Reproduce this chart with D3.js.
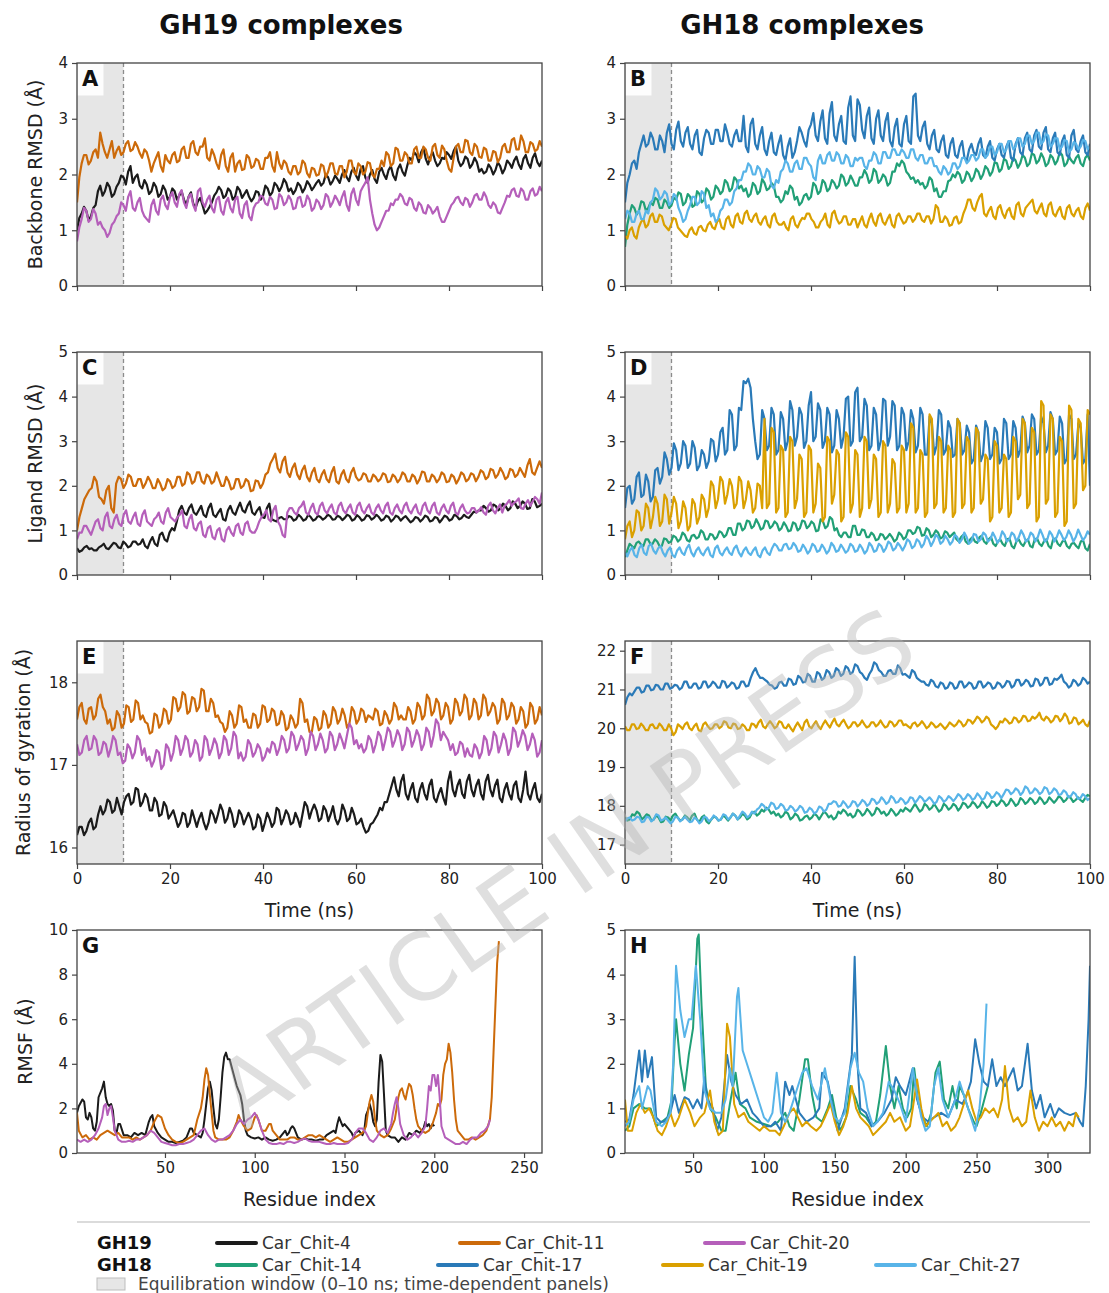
<!DOCTYPE html>
<html>
<head>
<meta charset="utf-8">
<script src="https://cdn.jsdelivr.net/npm/d3@7"></script>
<style>
  body { margin: 0; background: #fff; }
  svg { display: block; font-family: "DejaVu Sans", sans-serif; }
</style>
</head>
<body>
<div id="chart"></div>
<script>
// ---- data ----
// time series: about two samples per ns, spread evenly over 0..100 ns

// A: backbone RMSD, GH19
const A_chit4 = [1.00,1.22,1.30,1.42,1.35,1.18,1.25,1.40,1.45,1.70,1.80,1.62,1.70,1.85,1.78,1.60,1.65,1.78,1.85,1.98,1.95,1.82,2.05,2.15,1.85,1.95,2.00,1.80,1.75,1.90,1.82,1.65,1.70,1.85,1.78,1.60,1.65,1.80,1.72,1.55,1.60,1.75,1.70,1.55,1.62,1.70,1.55,1.45,1.60,1.68,1.48,1.40,1.52,1.58,1.45,1.30,1.35,1.42,1.50,1.62,1.68,1.78,1.72,1.58,1.62,1.75,1.70,1.55,1.60,1.78,1.72,1.58,1.65,1.72,1.60,1.52,1.58,1.70,1.68,1.55,1.62,1.80,1.75,1.62,1.68,1.85,1.80,1.70,1.78,1.92,1.85,1.70,1.75,1.65,1.72,1.85,1.80,1.68,1.75,1.88,1.82,1.72,1.78,1.85,1.90,1.80,1.85,2.00,1.95,1.82,1.88,1.98,1.92,1.85,2.00,2.08,1.95,1.88,2.05,2.12,1.98,1.90,2.10,2.15,1.95,1.85,2.00,2.08,1.92,1.85,2.05,2.12,2.00,1.92,2.08,2.15,1.98,1.90,2.10,2.18,2.05,1.98,2.15,2.30,2.25,2.40,2.35,2.22,2.40,2.48,2.28,2.18,2.32,2.40,2.25,2.15,2.20,2.30,2.28,2.40,2.35,2.28,2.42,2.50,2.25,2.15,2.20,2.32,2.28,2.12,2.18,2.30,2.22,2.05,2.10,2.02,2.05,2.18,2.12,2.00,2.08,2.22,2.15,2.02,2.10,2.25,2.20,2.12,2.25,2.32,2.18,2.10,2.28,2.35,2.20,2.12,2.30,2.38,2.22,2.15,2.25];
const A_chit11 = [1.50,1.95,2.20,2.35,2.35,2.18,2.25,2.40,2.45,2.30,2.75,2.55,2.40,2.30,2.45,2.60,2.30,2.42,2.50,2.35,2.40,2.55,2.60,2.42,2.45,2.58,2.50,2.38,2.30,2.45,2.40,2.25,2.05,2.20,2.30,2.40,2.15,2.05,2.35,2.25,2.20,2.35,2.40,2.22,2.25,2.45,2.50,2.30,2.30,2.55,2.60,2.40,2.35,2.50,2.50,2.65,2.30,2.25,2.45,2.35,2.20,2.10,2.35,2.45,2.15,2.05,2.30,2.38,2.05,2.20,2.25,2.08,2.10,2.35,2.30,2.12,2.15,2.28,2.25,2.10,2.10,2.30,2.30,2.40,2.15,2.05,2.40,2.20,2.10,2.25,2.20,2.05,2.00,2.15,2.15,2.00,2.05,2.25,2.20,2.02,1.95,2.12,2.10,1.98,2.00,2.18,2.15,1.95,2.05,2.20,2.20,2.02,2.00,2.15,2.15,1.95,2.05,2.25,2.25,2.05,2.00,2.20,2.15,2.00,2.05,2.22,2.20,2.00,1.95,2.10,2.10,2.25,2.15,2.40,2.35,2.15,2.20,2.48,2.45,2.25,2.25,2.40,2.35,2.20,2.20,2.45,2.50,2.30,2.30,2.50,2.45,2.30,2.25,2.50,2.55,2.35,2.30,2.52,2.45,2.25,2.10,2.05,2.30,2.50,2.55,2.40,2.40,2.62,2.60,2.40,2.35,2.55,2.50,2.32,2.30,2.48,2.45,2.25,2.25,2.42,2.40,2.22,2.30,2.50,2.55,2.40,2.40,2.62,2.65,2.45,2.45,2.70,2.60,2.40,2.40,2.58,2.55,2.42,2.45,2.60,2.50];
const A_chit20 = [0.80,1.05,1.20,1.40,1.35,1.15,1.20,1.38,1.30,1.10,1.15,1.05,1.00,0.88,0.95,1.10,1.15,1.25,1.30,1.50,1.45,1.35,1.60,1.70,1.40,1.35,1.50,1.58,1.35,1.25,1.20,1.15,1.45,1.55,1.35,1.28,1.55,1.62,1.45,1.38,1.60,1.68,1.50,1.42,1.65,1.72,1.50,1.40,1.60,1.65,1.45,1.35,1.70,1.75,1.50,1.42,1.55,1.62,1.40,1.32,1.55,1.60,1.35,1.28,1.50,1.58,1.40,1.32,1.55,1.60,1.30,1.22,1.45,1.52,1.25,1.18,1.40,1.48,1.50,1.62,1.60,1.48,1.45,1.60,1.55,1.38,1.40,1.65,1.60,1.45,1.50,1.62,1.55,1.38,1.40,1.58,1.60,1.42,1.45,1.62,1.55,1.35,1.40,1.55,1.50,1.38,1.45,1.65,1.60,1.42,1.50,1.62,1.55,1.45,1.60,1.70,1.45,1.35,1.65,1.75,1.55,1.45,1.70,1.78,1.85,1.95,1.55,1.30,1.10,1.00,1.05,1.15,1.25,1.35,1.35,1.48,1.45,1.55,1.55,1.65,1.60,1.48,1.45,1.58,1.55,1.40,1.35,1.50,1.45,1.32,1.30,1.45,1.40,1.30,1.35,1.42,1.25,1.15,1.15,1.25,1.35,1.45,1.50,1.58,1.60,1.50,1.45,1.58,1.55,1.42,1.50,1.62,1.65,1.55,1.55,1.68,1.60,1.45,1.40,1.50,1.45,1.32,1.30,1.40,1.50,1.62,1.60,1.72,1.75,1.62,1.60,1.75,1.70,1.55,1.55,1.70,1.75,1.62,1.65,1.78,1.70];

// B: backbone RMSD, GH18
const B_chit14 = [0.70,1.10,1.30,1.45,1.40,1.28,1.35,1.52,1.50,1.35,1.40,1.50,1.45,1.58,1.55,1.40,1.40,1.55,1.50,1.40,1.45,1.58,1.55,1.68,1.65,1.45,1.50,1.65,1.60,1.42,1.45,1.70,1.65,1.50,1.55,1.75,1.70,1.55,1.60,1.80,1.75,1.65,1.70,1.90,1.85,1.70,1.75,1.95,1.90,1.75,1.80,1.70,1.75,1.60,1.65,1.85,1.80,1.65,1.70,1.92,1.85,1.72,1.75,1.85,1.80,1.60,1.60,1.50,1.55,1.70,1.65,1.80,1.75,1.55,1.60,1.45,1.50,1.62,1.65,1.55,1.60,1.85,1.80,1.65,1.70,1.90,1.85,1.70,1.75,1.90,1.85,1.75,1.80,2.00,1.95,1.80,1.85,1.98,1.90,1.80,1.80,1.95,1.95,2.08,2.00,1.85,1.90,2.10,2.05,1.85,1.90,2.00,1.95,1.80,1.85,2.05,2.05,2.20,2.15,2.25,2.20,2.05,2.00,1.92,1.95,1.85,1.90,1.82,1.85,1.75,1.80,1.95,1.90,1.70,1.75,1.60,1.60,1.70,1.70,1.88,1.90,2.00,1.95,2.05,2.00,1.85,1.90,2.05,2.00,1.88,1.95,2.10,2.05,1.92,2.00,2.15,2.10,1.98,2.05,2.22,2.20,2.05,2.10,2.28,2.25,2.10,2.15,2.30,2.25,2.12,2.20,2.35,2.30,2.15,2.20,2.38,2.35,2.20,2.25,2.38,2.30,2.15,2.20,2.35,2.30,2.18,2.25,2.40,2.35,2.15,2.20,2.32,2.25,2.20,2.30,2.35,2.20,2.15,2.30,2.35,2.25];
const B_chit17 = [1.50,1.85,2.00,2.20,2.25,2.10,2.40,2.55,2.70,2.50,2.55,2.75,2.65,2.45,2.45,2.70,2.60,2.40,2.75,2.90,2.55,2.45,2.80,2.95,2.60,2.50,2.75,2.85,2.55,2.45,2.70,2.80,2.40,2.35,2.65,2.80,2.75,2.55,2.55,2.80,2.80,2.60,2.60,2.90,2.75,2.55,2.50,2.70,2.80,2.60,2.60,3.05,2.50,2.40,2.90,3.00,2.55,2.45,2.70,2.85,2.45,2.35,2.60,2.75,2.40,2.35,2.55,2.70,2.35,2.25,2.50,2.65,2.30,2.40,2.60,2.85,2.75,2.60,2.50,2.80,2.90,3.10,2.70,2.60,2.95,3.15,2.65,2.55,3.10,3.30,2.70,2.60,2.90,3.05,2.60,2.55,3.20,3.40,2.70,2.60,3.35,3.25,2.80,2.65,3.05,3.20,2.65,2.55,3.00,3.15,2.70,2.60,2.95,3.10,2.60,2.50,2.85,3.00,2.55,2.50,2.90,3.05,2.60,2.55,3.40,3.45,2.70,2.60,2.85,2.95,2.55,2.45,2.70,2.80,2.45,2.40,2.60,2.70,2.35,2.30,2.55,2.65,2.35,2.30,2.50,2.60,2.30,2.25,2.45,2.55,2.40,2.35,2.55,2.65,2.35,2.30,2.50,2.60,2.30,2.25,2.45,2.55,2.35,2.30,2.50,2.60,2.30,2.25,2.55,2.65,2.40,2.35,2.65,2.75,2.45,2.40,2.70,2.80,2.50,2.45,2.75,2.85,2.45,2.40,2.65,2.75,2.40,2.35,2.60,2.70,2.35,2.30,2.70,2.80,2.45,2.40,2.60,2.70,2.40,2.35,2.55];
const B_chit19 = [0.90,0.85,1.00,1.05,0.90,0.85,1.05,1.15,1.20,1.05,1.10,1.25,1.30,1.15,1.15,1.28,1.25,1.10,1.05,1.00,1.10,1.22,1.20,1.05,1.00,0.95,0.90,0.88,1.00,1.05,0.95,0.92,1.05,1.08,1.00,0.98,1.10,1.15,1.05,1.02,1.15,1.20,1.05,1.02,1.20,1.25,1.10,1.05,1.25,1.30,1.15,1.12,1.30,1.35,1.20,1.15,1.25,1.30,1.15,1.10,1.20,1.25,1.10,1.05,1.25,1.30,1.15,1.10,1.10,1.15,1.05,1.00,1.20,1.25,1.10,1.05,1.15,1.22,1.20,1.30,1.30,1.20,1.15,1.05,1.05,1.15,1.20,1.30,1.10,1.05,1.30,1.35,1.20,1.12,1.15,1.25,1.25,1.10,1.10,1.20,1.20,1.05,1.15,1.25,1.10,1.05,1.20,1.30,1.15,1.08,1.25,1.30,1.15,1.10,1.20,1.28,1.10,1.05,1.25,1.30,1.20,1.12,1.15,1.25,1.25,1.15,1.20,1.30,1.30,1.18,1.15,1.25,1.25,1.12,1.20,1.45,1.40,1.15,1.15,1.25,1.20,1.08,1.10,1.22,1.25,1.12,1.15,1.30,1.40,1.55,1.55,1.40,1.35,1.50,1.60,1.65,1.30,1.25,1.35,1.42,1.25,1.20,1.40,1.45,1.30,1.22,1.35,1.40,1.25,1.20,1.45,1.50,1.30,1.25,1.40,1.45,1.50,1.55,1.35,1.30,1.40,1.48,1.30,1.25,1.45,1.50,1.30,1.25,1.35,1.42,1.25,1.20,1.40,1.45,1.30,1.25,1.35,1.40,1.25,1.20,1.40,1.48,1.35];
const B_chit27 = [1.20,1.35,1.30,1.15,1.15,1.30,1.35,1.20,1.20,1.35,1.30,1.50,1.55,1.75,1.70,1.55,1.60,1.70,1.65,1.45,1.50,1.65,1.60,1.40,1.30,1.15,1.20,1.35,1.45,1.60,1.60,1.45,1.50,1.70,1.65,1.40,1.45,1.25,1.30,1.15,1.20,1.35,1.40,1.55,1.55,1.45,1.50,1.70,1.75,1.90,1.90,2.05,2.05,2.20,2.15,2.00,2.00,2.15,2.10,1.95,1.95,2.10,2.05,1.80,1.75,1.90,1.85,2.05,2.10,2.25,2.20,2.05,2.05,2.20,2.25,2.10,2.10,2.30,2.30,2.20,2.15,1.95,1.90,2.25,2.35,2.20,2.20,2.35,2.40,2.25,2.25,2.40,2.35,2.20,2.20,2.35,2.30,2.15,2.15,2.30,2.25,2.30,2.30,2.15,2.10,2.25,2.25,2.40,2.35,2.20,2.20,2.40,2.40,2.30,2.30,2.45,2.45,2.35,2.35,2.45,2.40,2.30,2.30,2.45,2.45,2.30,2.25,2.35,2.35,2.20,2.20,2.30,2.30,2.15,2.15,2.05,2.00,2.15,2.10,2.00,2.05,2.20,2.20,2.10,2.15,2.30,2.30,2.20,2.25,2.35,2.35,2.25,2.30,2.45,2.45,2.30,2.35,2.50,2.50,2.35,2.40,2.55,2.55,2.40,2.45,2.60,2.60,2.45,2.50,2.65,2.65,2.50,2.55,2.70,2.70,2.55,2.60,2.75,2.75,2.55,2.60,2.72,2.70,2.50,2.55,2.65,2.65,2.45,2.50,2.62,2.60,2.40,2.45,2.58,2.55,2.45,2.50,2.62,2.60,2.45,2.50];

// C: ligand RMSD, GH19
const C_chit4 = [0.60,0.52,0.55,0.62,0.65,0.58,0.60,0.55,0.55,0.62,0.65,0.70,0.60,0.58,0.65,0.72,0.70,0.62,0.60,0.75,0.70,0.62,0.65,0.75,0.75,0.68,0.70,0.80,0.65,0.60,0.75,0.85,0.70,0.65,0.90,0.95,0.80,0.75,0.95,1.05,1.00,1.20,1.45,1.55,1.40,1.35,1.50,1.58,1.40,1.35,1.45,1.55,1.35,1.30,1.50,1.60,1.35,1.30,1.40,1.48,1.25,1.22,1.45,1.55,1.40,1.35,1.50,1.62,1.45,1.40,1.55,1.65,1.40,1.35,1.45,1.52,1.30,1.28,1.50,1.60,1.25,1.22,1.20,1.28,1.30,1.25,1.25,1.32,1.30,1.22,1.25,1.35,1.30,1.22,1.25,1.35,1.30,1.22,1.25,1.33,1.30,1.24,1.28,1.35,1.32,1.24,1.25,1.33,1.30,1.23,1.28,1.35,1.32,1.22,1.25,1.34,1.30,1.22,1.25,1.34,1.32,1.24,1.28,1.35,1.30,1.22,1.25,1.33,1.30,1.20,1.25,1.33,1.30,1.22,1.28,1.32,1.25,1.18,1.22,1.30,1.28,1.20,1.25,1.33,1.30,1.20,1.22,1.30,1.28,1.18,1.25,1.33,1.30,1.22,1.25,1.35,1.32,1.25,1.28,1.35,1.30,1.28,1.35,1.42,1.40,1.45,1.45,1.55,1.50,1.42,1.45,1.58,1.55,1.45,1.50,1.60,1.55,1.45,1.50,1.65,1.60,1.50,1.55,1.65,1.60,1.48,1.50,1.70,1.65,1.52,1.55,1.60];
const C_chit11 = [1.00,1.30,1.50,1.70,1.80,1.90,1.95,2.20,2.10,1.75,1.70,1.60,1.90,2.00,1.50,1.40,2.05,2.20,2.15,1.95,2.05,2.25,2.20,2.00,2.00,2.15,2.15,1.95,2.05,2.20,2.10,1.95,1.95,2.15,2.05,1.90,1.95,2.15,2.10,1.95,2.00,2.20,2.20,2.00,2.05,2.30,2.25,2.05,2.10,2.30,2.30,2.10,2.05,2.25,2.20,2.05,2.10,2.30,2.15,2.00,2.00,2.20,2.10,1.92,1.95,2.15,2.15,1.95,2.00,2.15,2.10,1.88,1.90,2.12,2.10,1.95,2.05,2.25,2.30,2.50,2.60,2.72,2.40,2.30,2.55,2.65,2.30,2.20,2.40,2.50,2.25,2.15,2.35,2.45,2.20,2.10,2.30,2.40,2.15,2.08,2.25,2.35,2.15,2.08,2.30,2.42,2.10,2.05,2.25,2.35,2.15,2.08,2.30,2.40,2.20,2.12,2.15,2.28,2.25,2.10,2.10,2.25,2.20,2.10,2.15,2.28,2.25,2.08,2.10,2.25,2.20,2.08,2.15,2.30,2.25,2.10,2.10,2.25,2.20,2.05,2.15,2.32,2.30,2.10,2.10,2.25,2.20,2.08,2.15,2.30,2.25,2.08,2.10,2.25,2.20,2.05,2.15,2.30,2.25,2.10,2.15,2.28,2.25,2.10,2.20,2.35,2.30,2.15,2.20,2.38,2.35,2.18,2.25,2.40,2.30,2.15,2.20,2.38,2.35,2.20,2.25,2.40,2.30,2.20,2.45,2.60,2.30,2.25,2.40,2.55,2.40];
const C_chit20 = [0.80,0.95,0.95,1.10,1.10,1.00,0.90,1.05,1.20,1.25,1.05,1.00,1.30,1.40,1.10,1.05,1.25,1.35,1.15,1.10,1.35,1.45,1.20,1.15,1.30,1.40,1.15,1.10,1.35,1.45,1.20,1.15,1.10,1.25,1.30,1.40,1.20,1.15,1.40,1.50,1.30,1.25,1.20,1.30,1.35,1.45,1.10,1.05,1.25,1.35,1.05,1.00,1.15,1.20,0.90,0.85,1.05,1.10,0.85,0.80,1.00,1.05,0.80,0.75,1.00,1.08,0.95,0.88,1.10,1.15,0.95,0.90,1.15,1.20,1.00,0.95,0.95,1.05,1.20,1.30,1.35,1.45,1.25,1.20,1.45,1.55,1.20,1.10,0.90,0.85,1.40,1.50,1.50,1.40,1.35,1.50,1.55,1.65,1.40,1.35,1.50,1.60,1.40,1.35,1.55,1.62,1.45,1.38,1.50,1.58,1.40,1.35,1.55,1.62,1.45,1.38,1.50,1.58,1.40,1.35,1.55,1.62,1.45,1.38,1.50,1.58,1.40,1.35,1.50,1.58,1.45,1.38,1.55,1.62,1.40,1.35,1.50,1.58,1.45,1.38,1.55,1.62,1.45,1.38,1.50,1.58,1.40,1.35,1.55,1.62,1.45,1.38,1.55,1.62,1.40,1.35,1.50,1.58,1.45,1.38,1.55,1.62,1.40,1.35,1.50,1.58,1.45,1.38,1.40,1.50,1.50,1.40,1.45,1.52,1.40,1.35,1.55,1.62,1.45,1.38,1.50,1.58,1.40,1.55,1.60,1.68,1.55,1.62,1.65,1.72,1.50,1.48,1.60,1.68,1.55,1.65,1.75,1.70,1.60,1.85];

// D: ligand RMSD, GH18
const D_chit14 = [0.40,0.55,0.70,0.65,0.60,0.72,0.75,0.68,0.65,0.80,0.80,0.70,0.70,0.80,0.75,0.65,0.65,0.82,0.80,0.72,0.75,0.88,0.85,0.75,0.80,0.95,0.90,0.78,0.75,0.88,0.90,0.82,0.85,1.00,0.95,0.80,0.80,0.92,0.90,0.80,0.85,0.98,0.95,0.85,0.90,1.05,1.05,0.90,0.90,1.15,1.15,1.00,1.05,1.22,1.20,1.05,1.10,1.25,1.15,1.02,1.05,1.22,1.20,1.05,1.10,1.20,1.15,1.00,1.05,1.18,1.10,0.98,1.00,1.18,1.15,1.00,1.05,1.22,1.20,1.05,1.10,1.20,1.15,0.98,1.00,1.25,1.20,1.05,1.10,1.30,1.25,1.00,1.05,0.90,0.85,0.95,0.95,0.85,0.85,1.10,1.10,0.90,0.90,1.02,1.00,0.85,0.85,0.95,0.90,0.78,0.80,0.92,0.90,0.80,0.85,0.92,0.85,0.75,0.80,0.95,0.90,0.80,0.85,1.00,1.00,0.92,0.95,1.08,1.05,0.88,0.90,1.05,1.00,0.85,0.90,1.00,0.95,0.82,0.85,0.98,0.95,0.85,0.90,0.95,0.80,0.75,0.85,0.90,0.75,0.70,0.80,0.85,0.75,0.72,0.85,0.88,0.75,0.70,0.80,0.85,0.70,0.65,0.75,0.80,0.70,0.65,0.80,0.82,0.65,0.60,0.75,0.80,0.70,0.65,0.75,0.80,0.65,0.62,0.80,0.82,0.70,0.65,0.75,0.80,0.65,0.60,0.80,0.82,0.70,0.65,0.75,0.78,0.65,0.60,0.70,0.72,0.65,0.60,0.75,0.78,0.60,0.55,0.70];
const D_chit17 = [1.50,1.95,2.00,1.60,1.70,2.20,2.30,1.75,1.80,2.25,2.10,1.65,1.75,2.35,2.40,2.05,2.20,2.75,2.60,2.25,2.40,2.95,2.80,2.35,2.50,3.00,2.90,2.40,2.50,3.00,2.85,2.35,2.45,2.80,2.70,2.40,2.55,3.05,3.00,2.55,2.70,3.20,3.30,2.70,2.80,3.70,3.60,2.80,2.90,3.75,3.70,4.35,4.30,4.40,4.20,3.50,3.00,2.60,2.70,3.70,3.50,2.80,2.90,3.75,3.60,2.70,2.80,3.65,3.50,2.80,3.00,3.90,3.70,2.90,3.10,3.75,3.60,2.85,3.00,3.80,4.10,3.00,3.10,3.85,3.70,2.85,3.00,3.75,3.60,2.75,2.90,3.70,3.50,2.85,3.10,3.95,4.00,2.90,3.00,4.10,4.20,3.00,3.10,3.95,3.80,2.80,2.90,3.75,3.60,2.80,3.00,3.95,3.90,2.90,3.10,3.90,3.80,2.80,2.90,3.75,3.60,2.80,3.00,3.70,3.50,2.75,2.90,3.75,3.60,2.70,2.70,3.55,3.40,2.70,2.90,3.70,3.60,2.70,2.80,3.45,3.30,2.65,2.70,3.50,3.40,2.70,2.80,3.35,3.20,2.50,2.60,3.35,3.20,2.55,2.70,3.45,3.30,2.60,2.70,3.30,3.20,2.50,2.60,3.50,3.40,2.60,2.70,3.45,3.30,2.65,2.80,3.55,3.40,2.75,2.90,3.60,3.50,2.70,2.80,3.55,3.40,2.75,2.90,3.65,3.50,2.70,2.80,3.55,3.40,2.50,2.60,3.60,3.50,2.60,2.70,3.40,3.30,2.50,2.60,3.60,2.00];
const D_chit19 = [0.80,1.10,1.20,0.85,1.00,1.45,1.40,1.00,1.10,1.60,1.50,1.05,1.30,1.75,1.60,1.10,1.20,1.80,1.70,1.15,1.40,1.75,1.60,1.05,1.20,1.65,1.50,1.00,1.10,1.70,1.60,1.15,1.30,1.80,1.70,1.30,1.50,2.10,2.00,1.50,1.70,2.20,2.10,1.60,1.80,2.15,2.00,1.50,1.60,2.20,2.10,1.50,1.70,2.10,1.90,1.40,1.50,2.05,2.00,1.50,3.50,1.50,1.60,3.30,3.20,1.40,1.50,2.90,2.80,1.30,1.40,3.10,3.00,1.50,1.70,2.70,2.60,1.30,1.40,2.90,2.80,1.40,1.60,2.50,2.40,1.20,1.30,3.10,3.00,1.60,1.80,2.80,2.70,1.20,1.30,3.20,3.10,1.40,1.60,2.80,2.70,1.30,1.50,3.10,3.00,1.50,1.70,2.70,2.60,1.30,1.40,3.00,2.90,1.40,1.60,2.60,2.50,1.40,1.50,2.90,2.80,1.40,1.60,3.40,3.30,1.40,1.50,2.80,2.70,1.30,1.40,3.60,3.50,1.50,1.60,3.10,3.00,1.40,1.50,2.90,2.80,1.30,1.40,3.50,3.40,1.50,1.60,3.10,3.00,1.40,1.50,3.30,3.20,1.60,1.70,2.70,2.60,1.20,1.30,3.00,2.90,1.40,1.50,2.70,2.60,1.30,1.40,3.10,3.00,1.70,1.80,3.50,3.40,1.50,1.60,3.30,3.20,1.20,1.30,3.90,3.80,1.60,1.70,3.60,3.50,1.30,1.40,3.10,3.00,1.10,1.20,3.80,3.70,1.50,1.60,3.50,3.40,1.90,2.00,3.70,3.60];
const D_chit27 = [0.50,0.42,0.55,0.62,0.45,0.40,0.60,0.68,0.50,0.45,0.65,0.70,0.55,0.48,0.60,0.65,0.50,0.42,0.55,0.62,0.45,0.40,0.55,0.62,0.50,0.45,0.60,0.68,0.50,0.42,0.55,0.62,0.50,0.44,0.55,0.62,0.45,0.40,0.60,0.66,0.50,0.44,0.55,0.62,0.50,0.45,0.60,0.66,0.50,0.42,0.55,0.62,0.50,0.45,0.55,0.62,0.45,0.40,0.55,0.62,0.50,0.45,0.60,0.70,0.65,0.55,0.55,0.68,0.70,0.58,0.60,0.72,0.65,0.52,0.55,0.68,0.60,0.48,0.55,0.70,0.65,0.52,0.55,0.68,0.60,0.48,0.55,0.72,0.65,0.52,0.55,0.68,0.60,0.50,0.55,0.70,0.65,0.52,0.55,0.68,0.60,0.48,0.55,0.72,0.65,0.52,0.55,0.70,0.65,0.52,0.60,0.75,0.70,0.55,0.60,0.72,0.65,0.55,0.65,0.80,0.75,0.60,0.65,0.80,0.75,0.62,0.70,0.88,0.80,0.65,0.75,0.90,0.85,0.70,0.75,0.88,0.80,0.68,0.75,0.90,0.85,0.72,0.80,0.95,0.85,0.70,0.75,0.92,0.90,0.75,0.80,0.95,0.90,0.75,0.80,0.95,0.85,0.72,0.80,0.98,0.90,0.75,0.80,0.95,0.90,0.75,0.85,1.00,0.90,0.75,0.80,0.95,0.90,0.75,0.85,1.02,0.90,0.75,0.80,0.98,0.90,0.75,0.85,1.00,0.90,0.78,0.85,1.00,0.90,0.75,0.85,1.02,0.90,0.78,0.85,0.98,0.90];

// E: radius of gyration, GH19
const E_chit4 = [16.15,16.25,16.25,16.15,16.20,16.30,16.35,16.22,16.25,16.40,16.50,16.40,16.45,16.58,16.55,16.42,16.45,16.60,16.50,16.40,16.55,16.62,16.65,16.52,16.55,16.72,16.70,16.50,16.55,16.65,16.60,16.45,16.45,16.60,16.55,16.38,16.40,16.55,16.50,16.35,16.40,16.45,16.35,16.25,16.30,16.42,16.40,16.25,16.30,16.45,16.35,16.25,16.35,16.42,16.30,16.22,16.30,16.45,16.40,16.30,16.40,16.52,16.45,16.30,16.35,16.48,16.40,16.25,16.30,16.45,16.40,16.28,16.35,16.42,16.35,16.22,16.25,16.40,16.35,16.20,16.30,16.42,16.35,16.25,16.30,16.48,16.45,16.28,16.35,16.45,16.40,16.28,16.30,16.42,16.35,16.25,16.40,16.55,16.50,16.35,16.45,16.52,16.45,16.32,16.35,16.50,16.45,16.32,16.40,16.50,16.35,16.28,16.35,16.52,16.45,16.32,16.35,16.48,16.40,16.28,16.30,16.35,16.25,16.18,16.20,16.28,16.30,16.35,16.40,16.48,16.45,16.55,16.55,16.65,16.75,16.85,16.70,16.62,16.80,16.88,16.65,16.58,16.70,16.78,16.60,16.55,16.70,16.78,16.65,16.58,16.75,16.82,16.60,16.55,16.65,16.72,16.60,16.52,16.80,16.92,16.70,16.62,16.75,16.82,16.65,16.60,16.80,16.88,16.70,16.62,16.75,16.82,16.65,16.58,16.80,16.88,16.70,16.62,16.75,16.82,16.60,16.55,16.70,16.78,16.65,16.58,16.75,16.80,16.60,16.55,16.70,16.92,16.65,16.58,16.70,16.78,16.60,16.55,16.65];
const E_chit11 = [17.55,17.70,17.75,17.55,17.50,17.68,17.70,17.55,17.60,17.80,17.85,17.70,17.65,17.50,17.55,17.42,17.45,17.65,17.60,17.45,17.50,17.72,17.70,17.52,17.55,17.78,17.75,17.55,17.60,17.52,17.50,17.38,17.40,17.62,17.60,17.45,17.50,17.68,17.65,17.50,17.55,17.82,17.80,17.65,17.70,17.88,17.85,17.62,17.65,17.82,17.80,17.65,17.70,17.92,17.90,17.65,17.65,17.80,17.75,17.58,17.60,17.52,17.50,17.40,17.45,17.65,17.60,17.45,17.50,17.72,17.70,17.52,17.55,17.45,17.45,17.62,17.60,17.45,17.50,17.72,17.70,17.52,17.55,17.68,17.65,17.48,17.50,17.65,17.60,17.42,17.45,17.60,17.55,17.45,17.50,17.80,17.75,17.52,17.55,17.40,17.40,17.58,17.55,17.42,17.45,17.65,17.60,17.45,17.50,17.70,17.65,17.50,17.55,17.68,17.60,17.45,17.50,17.70,17.65,17.50,17.55,17.68,17.65,17.52,17.60,17.58,17.55,17.68,17.65,17.48,17.50,17.65,17.60,17.50,17.55,17.75,17.70,17.55,17.60,17.55,17.55,17.70,17.65,17.50,17.55,17.75,17.70,17.55,17.60,17.85,17.80,17.60,17.65,17.80,17.75,17.55,17.60,17.75,17.70,17.50,17.55,17.80,17.75,17.60,17.65,17.85,17.80,17.55,17.60,17.80,17.75,17.55,17.60,17.85,17.80,17.60,17.65,17.75,17.70,17.50,17.55,17.80,17.75,17.55,17.60,17.75,17.70,17.50,17.55,17.70,17.65,17.45,17.50,17.75,17.70,17.50,17.55,17.70,17.60];
const E_chit20 = [17.25,17.12,17.15,17.30,17.35,17.18,17.20,17.35,17.30,17.12,17.15,17.28,17.25,17.10,17.20,17.35,17.30,17.12,17.15,17.02,17.05,17.25,17.20,17.08,17.15,17.35,17.30,17.12,17.20,17.05,17.10,16.98,17.05,17.18,17.15,16.95,17.00,17.25,17.20,17.05,17.15,17.35,17.30,17.12,17.20,17.35,17.30,17.10,17.15,17.30,17.25,17.05,17.10,17.35,17.30,17.12,17.20,17.32,17.25,17.08,17.15,17.35,17.30,17.12,17.20,17.40,17.35,17.08,17.15,17.05,17.10,17.30,17.25,17.10,17.15,17.25,17.20,17.05,17.10,17.20,17.15,17.28,17.25,17.12,17.20,17.35,17.30,17.15,17.20,17.40,17.35,17.18,17.25,17.35,17.30,17.12,17.20,17.40,17.35,17.18,17.25,17.38,17.30,17.15,17.20,17.40,17.35,17.18,17.25,17.38,17.30,17.20,17.35,17.50,17.45,17.25,17.30,17.20,17.25,17.15,17.20,17.35,17.30,17.15,17.25,17.40,17.35,17.18,17.30,17.45,17.40,17.22,17.30,17.42,17.35,17.18,17.25,17.45,17.40,17.22,17.30,17.42,17.35,17.18,17.25,17.45,17.40,17.22,17.35,17.55,17.50,17.30,17.40,17.35,17.30,17.18,17.25,17.12,17.15,17.28,17.25,17.10,17.20,17.12,17.10,17.25,17.20,17.08,17.15,17.35,17.30,17.12,17.20,17.40,17.35,17.15,17.25,17.38,17.30,17.12,17.20,17.45,17.40,17.22,17.30,17.42,17.35,17.18,17.25,17.38,17.30,17.10,17.15,17.30];

// F: radius of gyration, GH18
const F_chit14 = [17.70,17.62,17.65,17.78,17.75,17.85,17.80,17.65,17.70,17.78,17.75,17.62,17.65,17.75,17.70,17.58,17.60,17.72,17.70,17.62,17.75,17.80,17.70,17.62,17.65,17.75,17.70,17.62,17.75,17.80,17.65,17.58,17.70,17.75,17.60,17.55,17.65,17.72,17.70,17.62,17.65,17.75,17.70,17.62,17.70,17.80,17.75,17.65,17.70,17.80,17.75,17.65,17.70,17.82,17.85,17.75,17.80,17.90,17.85,17.95,17.90,17.80,17.85,17.75,17.80,17.70,17.75,17.85,17.80,17.65,17.70,17.80,17.75,17.62,17.65,17.72,17.75,17.65,17.70,17.80,17.75,17.65,17.75,17.85,17.80,17.70,17.75,17.65,17.70,17.85,17.80,17.90,17.85,17.75,17.80,17.70,17.75,17.90,17.85,17.75,17.80,17.92,17.85,17.75,17.80,17.95,17.90,17.80,17.85,17.75,17.80,17.92,17.85,17.75,17.80,17.90,17.85,17.95,17.90,17.85,17.95,18.05,17.95,17.85,17.90,18.05,18.00,17.90,17.95,18.05,17.95,17.85,17.90,18.05,18.00,17.90,17.95,18.05,18.00,17.88,17.95,18.08,18.05,17.95,18.00,18.10,18.05,17.95,18.00,18.12,18.05,17.95,18.00,18.12,18.10,18.00,18.05,18.15,18.10,18.00,18.05,18.18,18.10,18.00,18.05,18.20,18.15,18.05,18.10,18.20,18.15,18.05,18.10,18.22,18.15,18.05,18.10,18.22,18.15,18.08,18.15,18.25,18.20,18.10,18.15,18.25,18.20,18.10,18.15,18.22,18.15,18.10,18.20,18.28,18.25];
const F_chit17 = [20.60,20.80,20.90,20.85,20.95,21.05,21.05,20.92,20.95,21.10,21.10,20.98,21.00,21.12,21.10,21.00,21.00,21.15,21.15,21.02,21.05,21.12,21.10,21.00,21.05,21.20,21.20,21.05,21.05,21.15,21.15,21.02,21.05,21.20,21.20,21.05,21.10,21.20,21.15,21.05,21.05,21.22,21.20,21.05,21.10,21.18,21.15,21.02,21.05,21.20,21.20,21.08,21.10,21.30,21.45,21.55,21.40,21.30,21.30,21.25,21.20,21.12,21.10,21.02,21.05,21.18,21.20,21.10,21.10,21.28,21.25,21.12,21.15,21.35,21.30,21.18,21.20,21.40,21.35,21.20,21.20,21.45,21.40,21.25,21.30,21.50,21.45,21.30,21.35,21.55,21.50,21.35,21.40,21.60,21.55,21.40,21.45,21.65,21.60,21.45,21.40,21.30,21.25,21.40,21.50,21.70,21.65,21.50,21.45,21.35,21.35,21.48,21.50,21.40,21.40,21.62,21.55,21.38,21.40,21.35,21.30,21.50,21.45,21.30,21.25,21.20,21.20,21.12,21.10,21.25,21.20,21.08,21.05,21.18,21.15,21.02,21.05,21.18,21.15,21.02,21.05,21.20,21.20,21.05,21.10,21.18,21.15,21.02,21.05,21.20,21.20,21.05,21.10,21.18,21.15,21.02,21.05,21.18,21.15,21.05,21.10,21.22,21.20,21.05,21.10,21.25,21.25,21.10,21.15,21.25,21.20,21.08,21.10,21.28,21.25,21.10,21.15,21.30,21.30,21.12,21.15,21.28,21.25,21.30,21.38,21.20,21.15,21.05,21.10,21.25,21.20,21.10,21.15,21.30,21.25,21.15,21.20];
const F_chit19 = [20.05,19.95,19.95,20.10,20.10,19.98,20.00,20.12,20.05,19.95,19.95,20.08,20.10,20.00,20.00,20.12,20.05,19.95,19.95,20.10,20.00,19.82,19.90,20.10,20.05,19.98,20.10,20.15,20.00,19.95,20.05,20.12,19.95,19.92,20.10,20.15,20.05,19.98,20.00,20.10,20.10,20.00,20.05,20.18,20.15,20.02,20.00,20.12,20.10,19.98,20.00,20.10,20.05,19.95,19.95,20.12,20.10,20.02,20.15,20.22,20.05,20.00,20.10,20.18,20.10,20.00,20.05,20.18,20.15,20.02,20.00,20.10,20.00,19.92,20.05,20.15,20.05,19.95,20.15,20.22,20.05,20.00,20.10,20.18,20.05,19.98,20.10,20.20,20.10,20.02,20.15,20.25,20.10,20.05,20.15,20.22,20.10,20.00,20.05,20.15,20.15,20.05,20.10,20.20,20.10,20.02,20.05,20.15,20.15,20.05,20.10,20.20,20.10,20.02,20.05,20.18,20.15,20.05,20.10,20.20,20.20,20.08,20.10,20.05,20.00,20.12,20.15,20.05,20.10,20.18,20.10,20.00,20.05,20.15,20.10,20.02,20.05,20.12,20.05,19.98,20.05,20.15,20.10,20.05,20.10,20.20,20.15,20.05,20.10,20.22,20.20,20.12,20.20,20.30,20.25,20.15,20.20,20.30,20.25,20.10,20.05,19.98,20.05,20.18,20.15,20.25,20.20,20.12,20.15,20.28,20.25,20.15,20.20,20.32,20.30,20.18,20.20,20.30,20.25,20.30,20.40,20.25,20.20,20.30,20.25,20.15,20.20,20.32,20.30,20.18,20.25,20.38,20.30,20.12,20.15,20.28,20.25,20.10,20.15,20.22,20.10,20.05,20.20];
const F_chit27 = [17.60,17.68,17.70,17.62,17.65,17.72,17.70,17.58,17.60,17.72,17.70,17.60,17.65,17.78,17.75,17.62,17.65,17.70,17.62,17.55,17.60,17.72,17.70,17.60,17.65,17.72,17.65,17.58,17.60,17.70,17.65,17.55,17.60,17.72,17.70,17.60,17.65,17.75,17.70,17.62,17.65,17.78,17.75,17.65,17.70,17.80,17.75,17.65,17.75,17.85,17.80,17.70,17.75,17.85,17.80,17.90,17.95,18.05,18.00,17.90,17.95,18.08,18.05,17.92,17.95,18.05,18.00,17.88,17.90,18.00,17.95,17.85,17.90,18.00,17.95,17.82,17.85,17.95,17.90,17.80,17.85,17.98,17.95,17.85,17.90,18.05,18.05,18.12,18.10,17.98,18.00,18.12,18.05,17.95,18.00,18.12,18.10,17.98,18.05,18.15,18.10,18.00,18.05,18.18,18.15,18.05,18.10,18.22,18.15,18.05,18.10,18.25,18.20,18.08,18.10,18.20,18.15,18.05,18.10,18.22,18.20,18.08,18.15,18.25,18.20,18.10,18.15,18.22,18.15,18.05,18.10,18.25,18.20,18.10,18.15,18.25,18.20,18.12,18.20,18.30,18.25,18.15,18.20,18.30,18.25,18.15,18.20,18.32,18.25,18.15,18.20,18.35,18.30,18.20,18.25,18.35,18.30,18.20,18.30,18.42,18.40,18.30,18.35,18.45,18.40,18.28,18.35,18.50,18.45,18.32,18.35,18.45,18.40,18.30,18.35,18.48,18.45,18.30,18.35,18.45,18.40,18.28,18.30,18.40,18.35,18.22,18.25,18.35,18.30,18.18,18.20,18.30,18.25,18.15,18.20];

// G: RMSF, GH19  [residue, RMSF]
const G_chit4 = [[1,1.8],[2,2.1],[4,2.4],[5,2.3],[6,1.6],[7,1.5],[8,1.8],[9,1.6],[10,1.1],[11,1.0],[12,1.4],[13,2.5],[15,2.9],[16,3.2],[17,2.5],[18,2.2],[19,2.1],[20,2.2],[21,1.9],[22,1.0],[23,0.9],[24,1.3],[25,1.3],[27,0.8],[29,0.8],[31,0.7],[33,0.9],[35,0.8],[37,0.9],[39,0.8],[41,1.4],[42,1.6],[43,1.7],[44,1.2],[46,0.9],[48,0.7],[50,0.6],[52,0.5],[54,0.5],[56,0.45],[58,0.5],[60,0.55],[62,0.7],[64,1.1],[65,1.1],[66,0.9],[68,0.8],[70,0.7],[71,0.9],[72,1.5],[73,2.2],[74,2.9],[75,3.2],[76,2.8],[77,2.0],[78,1.3],[79,1.1],[80,1.5],[81,2.5],[82,3.6],[83,4.3],[84,4.5],[85,4.2],[86,4.2],[87,3.9],[88,3.6],[89,3.3],[90,3.0],[91,2.8],[92,2.6],[93,2.2],[94,1.5],[95,1.0],[96,0.8],[98,0.7],[100,0.65],[102,0.7],[104,0.6],[106,0.7],[108,0.6],[110,0.55],[112,0.6],[114,0.7],[116,0.9],[117,1.0],[118,0.8],[119,0.9],[120,1.1],[121,1.2],[122,1.1],[123,0.9],[124,0.7],[126,0.6],[128,0.65],[130,0.6],[132,0.6],[134,0.55],[136,0.6],[138,0.6],[140,0.8],[142,0.9],[144,1.0],[145,0.9],[146,1.3],[147,1.6],[148,1.4],[149,1.2],[150,1.3],[152,1.1],[154,0.9],[155,0.7],[156,0.9],[158,1.0],[160,0.8],[161,1.0],[162,1.7],[163,1.9],[164,2.2],[165,1.9],[166,1.4],[167,1.2],[168,1.5],[169,3.2],[170,4.4],[171,4.1],[172,2.6],[173,1.0],[174,0.8],[176,0.7],[178,0.7],[180,0.5],[182,0.7],[184,0.6],[186,0.9],[188,0.8],[190,1.0],[192,0.9],[194,1.1],[195,1.4],[196,1.2],[197,1.3],[198,1.1],[199,1.3],[200,1.2]];
const G_chit11 = [[1,1.8],[2,1.0],[4,0.7],[6,0.8],[8,0.6],[10,0.7],[12,0.6],[14,0.8],[16,0.9],[18,1.0],[20,0.9],[22,0.8],[24,0.9],[26,0.7],[28,0.7],[30,0.7],[32,0.6],[34,0.7],[36,0.6],[38,0.7],[40,0.8],[42,1.0],[44,1.4],[46,1.7],[48,1.6],[50,1.1],[52,0.8],[54,0.6],[56,0.5],[58,0.45],[60,0.5],[62,0.6],[64,0.7],[66,0.8],[68,1.5],[70,2.0],[71,2.5],[72,3.3],[73,3.8],[74,3.5],[75,2.6],[76,1.8],[77,1.0],[78,0.7],[80,0.6],[82,0.6],[84,0.6],[86,0.7],[88,1.0],[90,1.4],[91,1.7],[92,1.5],[94,1.2],[96,1.0],[98,1.1],[100,1.6],[101,1.7],[102,1.5],[104,1.0],[106,1.0],[108,1.3],[109,1.3],[110,1.0],[112,0.8],[114,0.6],[116,0.6],[118,0.6],[120,0.7],[122,0.7],[124,0.6],[126,0.6],[128,0.7],[130,0.8],[132,0.8],[134,0.7],[136,0.8],[138,0.7],[140,0.6],[142,0.5],[144,0.6],[146,0.7],[148,0.6],[150,0.5],[152,0.5],[154,0.6],[156,0.7],[158,0.8],[160,0.9],[162,1.2],[163,1.8],[164,2.3],[165,2.6],[166,2.3],[167,1.5],[168,1.0],[170,0.8],[172,0.7],[174,0.8],[176,1.1],[178,1.5],[179,2.0],[180,2.5],[181,2.8],[182,2.9],[183,2.6],[184,2.4],[185,2.8],[186,3.1],[187,3.0],[188,2.6],[189,2.0],[190,1.5],[191,1.2],[193,1.0],[195,0.9],[197,1.0],[199,1.3],[201,1.8],[202,2.2],[203,2.1],[204,2.4],[205,3.5],[206,4.0],[207,4.2],[208,4.9],[209,4.5],[210,3.6],[211,2.4],[212,1.5],[213,1.0],[215,0.8],[217,0.6],[219,0.6],[221,0.7],[223,0.6],[225,0.7],[227,0.8],[229,1.0],[231,1.5],[232,2.5],[233,4.5],[234,6.5],[235,8.5],[236,9.5]];
const G_chit20 = [[1,0.6],[3,0.5],[5,0.6],[7,0.5],[9,0.6],[11,0.8],[13,1.1],[15,1.6],[16,2.1],[17,2.2],[18,1.7],[19,2.0],[20,2.1],[21,1.6],[22,1.0],[24,0.6],[26,0.5],[28,0.5],[30,0.55],[32,0.5],[34,0.6],[36,0.6],[38,0.7],[40,0.8],[42,1.0],[44,0.9],[46,0.7],[48,0.5],[50,0.45],[52,0.4],[54,0.35],[56,0.35],[58,0.4],[60,0.4],[62,0.45],[64,0.5],[66,0.6],[68,0.8],[70,1.0],[72,1.1],[74,0.8],[76,0.6],[78,0.5],[80,0.6],[82,0.6],[84,0.7],[86,0.8],[88,1.0],[90,1.3],[92,1.5],[94,1.3],[96,1.5],[98,1.6],[100,1.8],[102,1.5],[104,1.0],[106,0.6],[108,0.45],[110,0.4],[112,0.4],[114,0.45],[116,0.4],[118,0.5],[120,0.5],[122,0.45],[124,0.5],[126,0.6],[128,0.65],[130,0.55],[132,0.5],[134,0.5],[136,0.5],[138,0.45],[140,0.4],[142,0.4],[144,0.45],[146,0.4],[148,0.4],[150,0.4],[152,0.45],[154,0.6],[156,0.9],[158,1.1],[160,1.1],[162,0.9],[164,0.6],[166,0.5],[168,0.7],[170,1.0],[172,1.1],[174,0.9],[176,1.3],[177,1.8],[178,2.2],[179,2.5],[180,2.0],[181,1.3],[183,0.8],[185,0.6],[187,0.7],[189,0.9],[191,0.7],[193,0.9],[195,1.2],[196,2.0],[197,3.0],[198,2.8],[199,3.5],[200,3.5],[201,3.0],[202,3.5],[203,2.5],[204,1.2],[206,0.7],[208,0.6],[210,0.5],[212,0.4],[214,0.4],[216,0.5],[218,0.4],[220,0.6],[222,0.7],[224,0.7],[226,0.9],[228,1.0],[230,1.2],[231,1.5]];

// H: RMSF, GH18  [residue, RMSF]
const H_chit14 = [[2,0.5],[5,0.6],[8,1.0],[12,1.1],[16,1.0],[20,1.0],[24,0.6],[28,0.7],[32,0.8],[35,1.2],[37,2.5],[38,3.0],[41,2.0],[44,1.4],[47,2.2],[50,2.8],[53,4.8],[54,4.9],[56,3.3],[59,1.5],[62,1.0],[66,0.8],[70,0.5],[73,0.5],[76,1.1],[80,1.8],[83,1.1],[87,1.0],[90,0.8],[95,0.7],[100,0.65],[105,0.6],[110,0.7],[115,0.9],[118,0.6],[121,0.5],[125,1.2],[129,2.1],[131,2.1],[134,1.3],[137,0.8],[141,0.7],[145,1.0],[148,1.3],[151,0.8],[154,0.5],[158,0.8],[161,1.5],[165,1.2],[168,0.9],[172,0.8],[176,0.6],[179,0.7],[182,1.3],[186,2.4],[189,1.5],[192,1.0],[195,1.5],[198,1.0],[201,0.8],[204,1.0],[206,1.9],[209,1.1],[212,0.8],[215,0.6],[218,0.9],[221,1.8],[224,2.05],[227,1.2],[230,1.0],[233,1.5],[236,1.0],[238,1.5],[241,1.3],[244,1.0],[248,0.7],[250,0.6],[253,0.9],[258,1.5]];
const H_chit17 = [[2,0.7],[5,0.75],[8,1.3],[12,2.3],[14,1.6],[16,2.3],[18,1.7],[21,2.15],[24,0.8],[27,0.7],[30,0.7],[34,0.9],[37,1.3],[40,0.9],[44,1.25],[47,1.2],[50,1.0],[53,1.2],[56,1.0],[58,1.7],[60,1.2],[64,1.0],[67,0.5],[70,0.8],[74,2.2],[77,1.6],[80,1.3],[84,1.1],[88,1.2],[92,0.9],[95,0.8],[100,0.6],[105,0.6],[108,0.7],[112,0.5],[115,1.6],[118,1.3],[120,1.5],[125,0.9],[130,0.7],[135,0.8],[139,1.0],[141,1.8],[145,1.6],[150,0.8],[152,0.5],[157,1.0],[162,2.2],[164,4.4],[166,2.0],[168,1.0],[172,0.9],[176,0.6],[180,0.7],[185,0.9],[190,1.2],[193,1.7],[196,1.5],[200,1.3],[205,1.9],[208,1.2],[212,0.8],[216,0.7],[220,0.8],[225,0.9],[230,0.8],[235,1.2],[240,1.1],[243,1.3],[246,1.6],[249,2.55],[252,2.0],[255,1.6],[258,1.5],[261,2.1],[264,1.5],[267,1.7],[270,1.5],[273,1.7],[276,1.9],[279,1.4],[282,1.5],[286,2.45],[289,1.4],[292,1.0],[295,1.3],[298,0.8],[302,1.1],[305,0.8],[308,1.0],[312,0.9],[316,0.85],[320,0.9],[323,0.7],[325,0.6],[327,1.5],[329,3.0],[330,4.2]];
const H_chit19 = [[2,1.2],[4,0.5],[7,0.5],[10,0.9],[13,1.1],[16,0.9],[19,1.0],[22,0.8],[25,0.5],[28,0.4],[31,0.6],[34,0.9],[37,0.6],[40,0.8],[44,1.2],[48,0.9],[51,0.6],[55,0.8],[58,0.9],[62,1.4],[65,0.7],[68,0.4],[71,0.5],[74,2.9],[76,2.6],[79,1.1],[82,0.8],[86,0.9],[89,0.7],[93,0.6],[97,0.5],[100,0.6],[104,0.5],[108,0.5],[111,0.4],[114,0.6],[118,0.9],[121,1.0],[124,0.8],[127,0.6],[130,0.7],[133,0.6],[137,0.5],[140,0.6],[143,0.8],[147,1.1],[150,0.7],[153,0.4],[156,0.6],[159,0.9],[162,1.5],[165,1.0],[168,0.8],[171,0.7],[174,0.6],[177,0.4],[180,0.5],[183,0.6],[186,0.7],[189,0.9],[192,0.7],[196,0.8],[200,0.5],[203,0.6],[205,1.0],[208,1.65],[211,1.0],[214,0.6],[217,0.7],[220,0.8],[223,0.9],[226,0.6],[229,0.7],[232,0.5],[235,0.6],[238,0.8],[241,1.1],[244,1.4],[247,1.0],[250,0.7],[253,0.8],[256,1.0],[259,0.9],[262,1.0],[265,0.8],[268,1.2],[270,1.95],[273,1.0],[276,0.7],[279,0.8],[282,0.6],[285,0.7],[288,1.4],[291,0.8],[294,0.5],[297,0.7],[300,0.6],[303,0.8],[306,0.6],[309,0.7],[312,0.5],[315,0.7],[318,0.6],[320,0.9],[322,0.8]];
const H_chit27 = [[2,0.6],[5,0.7],[8,1.2],[12,1.5],[14,1.0],[18,1.5],[20,1.4],[24,0.7],[28,0.6],[31,0.7],[34,0.9],[36,2.0],[38,4.2],[41,3.2],[44,2.6],[47,3.0],[49,3.0],[52,4.2],[55,3.0],[58,1.4],[62,1.0],[66,0.9],[70,0.9],[73,1.2],[76,1.9],[78,1.5],[81,3.5],[82,3.7],[85,2.3],[88,2.0],[92,1.6],[96,1.2],[100,0.8],[103,0.7],[106,0.9],[109,1.8],[112,0.9],[115,0.7],[118,0.9],[122,1.3],[127,1.8],[130,1.9],[134,1.5],[138,1.2],[143,1.9],[147,1.2],[150,0.8],[153,0.7],[157,0.9],[161,1.9],[164,2.25],[167,1.8],[170,1.6],[173,1.0],[177,0.6],[180,0.7],[184,0.9],[188,1.6],[192,1.4],[196,1.1],[200,0.7],[205,1.9],[208,1.3],[211,0.8],[214,0.5],[217,0.6],[220,1.5],[223,1.9],[226,1.2],[230,0.8],[234,1.1],[238,1.6],[242,1.2],[245,0.9],[249,0.5],[252,1.0],[255,2.0],[257,3.35]];

// legend entries and ticks
const gh19Names = ["Car_Chit-4", "Car_Chit-11", "Car_Chit-20"];
const gh18Names = ["Car_Chit-14", "Car_Chit-17", "Car_Chit-19", "Car_Chit-27"];
const timeTicks = [0, 20, 40, 60, 80, 100];
const titles = ["GH19 complexes", "GH18 complexes"];

const COLORS = {
  "Car_Chit-4": "#1b1b1b",
  "Car_Chit-11": "#cc6a0a",
  "Car_Chit-20": "#b55fba",
  "Car_Chit-14": "#21a077",
  "Car_Chit-17": "#2a7ab8",
  "Car_Chit-19": "#daa000",
  "Car_Chit-27": "#58b4e8"
};

// ---- layout ----
const W = 1109, H = 1293;
const COLS = [[77, 542], [625, 1090]];
const ROWS = [[63, 286], [352, 575], [641, 864], [930, 1153]];

const panels = [
  { id: "A", col: 0, row: 0, kind: "time", y: [0, 4], yTicks: [0, 1, 2, 3, 4], labels: false,
    series: [["Car_Chit-4", A_chit4], ["Car_Chit-11", A_chit11], ["Car_Chit-20", A_chit20]],
    ylabel: "Backbone RMSD (Å)", ylx: 35 },
  { id: "B", col: 1, row: 0, kind: "time", y: [0, 4], yTicks: [0, 1, 2, 3, 4], labels: false,
    series: [["Car_Chit-14", B_chit14], ["Car_Chit-17", B_chit17], ["Car_Chit-19", B_chit19], ["Car_Chit-27", B_chit27]] },
  { id: "C", col: 0, row: 1, kind: "time", y: [0, 5], yTicks: [0, 1, 2, 3, 4, 5], labels: false,
    series: [["Car_Chit-4", C_chit4], ["Car_Chit-11", C_chit11], ["Car_Chit-20", C_chit20]],
    ylabel: "Ligand RMSD (Å)", ylx: 35 },
  { id: "D", col: 1, row: 1, kind: "time", y: [0, 5], yTicks: [0, 1, 2, 3, 4, 5], labels: false,
    series: [["Car_Chit-14", D_chit14], ["Car_Chit-17", D_chit17], ["Car_Chit-19", D_chit19], ["Car_Chit-27", D_chit27]] },
  { id: "E", col: 0, row: 2, kind: "time", y: [15.8, 18.5], yTicks: [16, 17, 18], labels: true,
    series: [["Car_Chit-4", E_chit4], ["Car_Chit-11", E_chit11], ["Car_Chit-20", E_chit20]],
    ylabel: "Radius of gyration (Å)", ylx: 23 },
  { id: "F", col: 1, row: 2, kind: "time", y: [16.5, 22.25], yTicks: [17, 18, 19, 20, 21, 22], labels: true,
    series: [["Car_Chit-14", F_chit14], ["Car_Chit-17", F_chit17], ["Car_Chit-19", F_chit19], ["Car_Chit-27", F_chit27]] },
  { id: "G", col: 0, row: 3, kind: "res", x: [1, 260], xTicks: [50, 100, 150, 200, 250], y: [0, 10], yTicks: [0, 2, 4, 6, 8, 10],
    series: [["Car_Chit-4", G_chit4], ["Car_Chit-11", G_chit11], ["Car_Chit-20", G_chit20]],
    ylabel: "RMSF (Å)", ylx: 25 },
  { id: "H", col: 1, row: 3, kind: "res", x: [2, 330], xTicks: [50, 100, 150, 200, 250, 300], y: [0, 5], yTicks: [0, 1, 2, 3, 4, 5],
    series: [["Car_Chit-14", H_chit14], ["Car_Chit-17", H_chit17], ["Car_Chit-19", H_chit19], ["Car_Chit-27", H_chit27]] }
];

const svg = d3.select("#chart").append("svg")
  .attr("width", W).attr("height", H)
  .attr("viewBox", `0 0 ${W} ${H}`);

svg.append("rect").attr("width", W).attr("height", H).attr("fill", "#fff");

// column titles
const titleX = [281, 802];
titles.forEach((t, c) => {
  svg.append("text")
    .attr("x", titleX[c]).attr("y", 34)
    .attr("text-anchor", "middle")
    .attr("font-size", 26).attr("font-weight", "bold").attr("fill", "#111")
    .text(t);
});

panels.forEach(p => {
  const [x0, x1] = COLS[p.col];
  const [y0, y1] = ROWS[p.row];
  const x = p.kind === "time"
    ? d3.scaleLinear().domain([0, 100]).range([x0, x1])
    : d3.scaleLinear().domain(p.x).range([x0, x1]);
  const y = d3.scaleLinear().domain(p.y).range([y1, y0]);

  const g = svg.append("g");
  const clipId = "clip" + p.id;
  g.append("clipPath").attr("id", clipId)
    .append("rect").attr("x", x0).attr("y", y0).attr("width", x1 - x0).attr("height", y1 - y0);

  if (p.kind === "time") {
    // equilibration window
    g.append("rect")
      .attr("x", x(0)).attr("y", y0).attr("width", x(10) - x(0)).attr("height", y1 - y0)
      .attr("fill", "#e6e6e6");
    g.append("line")
      .attr("x1", x(10)).attr("x2", x(10)).attr("y1", y0).attr("y2", y1)
      .attr("stroke", "#8c8c8c").attr("stroke-width", 1.3).attr("stroke-dasharray", "4,3");
  }

  const lines = g.append("g").attr("clip-path", `url(#${clipId})`);
  p.series.forEach(([name, vals]) => {
    // time samples are evenly spaced over 0..100 ns
    const pts = p.kind === "time" ? vals.map((v, i) => [i * 100 / (vals.length - 1), v]) : vals;
    const line = d3.line().x(d => x(d[0])).y(d => y(d[1]));
    lines.append("path")
      .datum(pts)
      .attr("d", line)
      .attr("fill", "none")
      .attr("stroke", COLORS[name])
      .attr("stroke-width", p.kind === "time" ? 2.2 : 2)
      .attr("stroke-linejoin", "round");
  });

  // panel letter
  g.append("rect").attr("x", x0 + 0.5).attr("y", y0 + 0.5).attr("width", 26).attr("height", 32)
    .attr("fill", "#fff").attr("opacity", 0.92);
  g.append("text").attr("x", x0 + 5).attr("y", y0 + 23)
    .attr("font-size", 21).attr("font-weight", "bold").attr("fill", "#111")
    .text(p.id);

  // frame
  g.append("rect").attr("x", x0).attr("y", y0).attr("width", x1 - x0).attr("height", y1 - y0)
    .attr("fill", "none").attr("stroke", "#444").attr("stroke-width", 1.3);

  // axes
  const yAxis = d3.axisLeft(y).tickValues(p.yTicks).tickSize(5).tickPadding(4).tickFormat(d3.format("d"));
  const ya = g.append("g").attr("transform", `translate(${x0},0)`).call(yAxis);

  let xAxis;
  if (p.kind === "time") {
    xAxis = d3.axisBottom(x).tickValues(timeTicks).tickSize(5).tickPadding(4)
      .tickFormat(p.labels ? d3.format("d") : () => "");
  } else {
    xAxis = d3.axisBottom(x).tickValues(p.xTicks).tickSize(5).tickPadding(4).tickFormat(d3.format("d"));
  }
  const xa = g.append("g").attr("transform", `translate(0,${y1})`).call(xAxis);

  [ya, xa].forEach(a => {
    a.select(".domain").remove();
    a.selectAll(".tick line").attr("stroke", "#444").attr("stroke-width", 1.2);
    a.selectAll(".tick text").attr("font-size", 15).attr("fill", "#222")
      .attr("font-family", "DejaVu Sans, sans-serif");
  });

  if (p.ylabel) {
    svg.append("text")
      .attr("transform", `translate(${p.ylx},${(y0 + y1) / 2}) rotate(-90)`)
      .attr("text-anchor", "middle").attr("dy", "0.35em")
      .attr("font-size", 19).attr("fill", "#222")
      .text(p.ylabel);
  }
  if (p.row === 2 || p.row === 3) {
    svg.append("text")
      .attr("x", (x0 + x1) / 2).attr("y", y1 + 53)
      .attr("text-anchor", "middle")
      .attr("font-size", 19).attr("fill", "#222")
      .text(p.row === 2 ? "Time (ns)" : "Residue index");
  }
});

// ---- legend ----
const leg = svg.append("g");
leg.append("line").attr("x1", 77).attr("x2", 1090).attr("y1", 1222).attr("y2", 1222)
  .attr("stroke", "#cfcfcf").attr("stroke-width", 1.5);

const legendRows = [
  { group: "GH19", y: 1243, names: gh19Names, starts: [217, 460, 705] },
  { group: "GH18", y: 1265, names: gh18Names, starts: [217, 438, 663, 876] }
];
legendRows.forEach(r => {
  leg.append("text").attr("x", 97).attr("y", r.y).attr("dy", "0.35em")
    .attr("font-size", 18).attr("font-weight", "bold").attr("fill", "#111").text(r.group);
  r.names.forEach((n, i) => {
    const sx = r.starts[i];
    leg.append("line").attr("x1", sx).attr("x2", sx + 39).attr("y1", r.y).attr("y2", r.y)
      .attr("stroke", COLORS[n]).attr("stroke-width", 4).attr("stroke-linecap", "round");
    leg.append("text").attr("x", sx + 45).attr("y", r.y).attr("dy", "0.35em")
      .attr("font-size", 17).attr("fill", "#333").text(n);
  });
});
leg.append("rect").attr("x", 97).attr("y", 1278).attr("width", 28).attr("height", 12)
  .attr("fill", "#e6e6e6").attr("stroke", "#bdbdbd").attr("stroke-width", 1);
leg.append("text").attr("x", 138).attr("y", 1284).attr("dy", "0.35em")
  .attr("font-size", 17).attr("fill", "#444")
  .text("Equilibration window (0–10 ns; time-dependent panels)");

// ---- watermark ----
svg.append("text")
  .attr("transform", "translate(565,868) rotate(-35)")
  .attr("text-anchor", "middle").attr("dy", "0.35em")
  .attr("font-size", 92).attr("fill", "#b4b4b4").attr("opacity", 0.42)
  .text("ARTICLE IN PRESS");
</script>
</body>
</html>
